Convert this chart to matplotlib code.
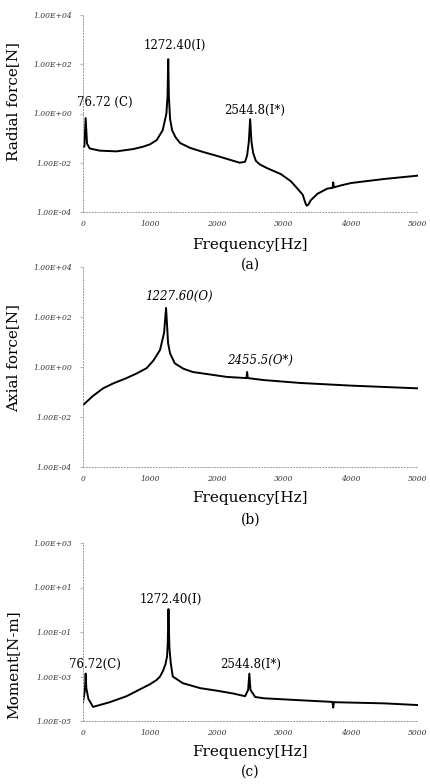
import matplotlib
matplotlib.use("Agg")
import matplotlib.pyplot as plt

# ── (a) radial force ──────────────────────────────────────────────
radial_freq = [0, 20, 40, 60, 100, 250, 500, 750, 900, 1000, 1100, 1190, 1245, 1262,
               1272.4, 1282, 1300, 1330, 1380, 1450, 1600, 1800, 2000, 2200, 2340,
               2420, 2450, 2475, 2495, 2515, 2540, 2580, 2640, 2750, 2950, 3100, 3200,
               3280, 3320, 3340, 3365, 3400, 3500, 3650, 3725, 3735, 3745, 3850, 4000,
               4500, 5000]
radial_val = [0.05, 0.045, 0.65, 0.06, 0.038, 0.031, 0.029, 0.036, 0.045, 0.056, 0.083,
              0.21, 1.0, 5, 160, 5, 0.6, 0.21, 0.11, 0.063, 0.04, 0.027, 0.019, 0.013,
              0.01, 0.011, 0.02, 0.07, 0.59, 0.07, 0.025, 0.012, 0.0085, 0.006, 0.0035,
              0.0018, 0.0009, 0.0005, 0.00023, 0.00018, 0.0002, 0.0003, 0.00055,
              0.0009, 0.00095, 0.0016, 0.001, 0.0012, 0.0015, 0.0022, 0.003]

# ── (b) axial force ───────────────────────────────────────────────
axial_freq = [0, 150, 300, 450, 650, 800, 950, 1050, 1150, 1210, 1240, 1270, 1300,
              1370, 1500, 1640, 1900, 2150, 2440, 2450, 2460, 2700, 3240, 4000, 5000]
axial_val = [0.03, 0.07, 0.14, 0.22, 0.36, 0.55, 0.9, 1.8, 4.8, 23, 230, 9, 3.5, 1.4,
             0.85, 0.63, 0.5, 0.4, 0.36, 0.63, 0.36, 0.3, 0.23, 0.18, 0.14]

# ── (c) moment ────────────────────────────────────────────────────
moment_freq = [0, 15, 30, 40, 50, 80, 150, 400, 650, 1000, 1100, 1150, 1195, 1230,
               1255, 1265, 1276, 1290, 1310, 1340, 1490, 1750, 2000, 2250, 2420, 2465,
               2483, 2500, 2570, 2700, 3200, 3725, 3735, 3745, 4500, 5000]
moment_val = [7e-5, 1.3e-4, 3e-4, 1.35e-3, 3e-4, 1.0e-4, 4.3e-5, 7e-5, 1.3e-4, 4.5e-4,
              7e-4, 1.0e-3, 1.8e-3, 3.5e-3, 8e-3, 0.03, 1.07, 0.02, 4e-3, 1e-3, 5e-4,
              3e-4, 2.3e-4, 1.7e-4, 1.3e-4, 2.5e-4, 1.35e-3, 2.5e-4, 1.2e-4, 1.05e-4,
              8.7e-5, 7.2e-5, 4e-5, 7e-5, 6.2e-5, 5.2e-5]

x_ticks = [0, 1000, 2000, 3000, 4000, 5000]

panels = [
    dict(freq=radial_freq, val=radial_val, ylabel="Radial force[N]", tag="(a)",
         yticks=[1e-4, 1e-2, 1e0, 1e2, 1e4],
         ylabels=["1.00E-04", "1.00E-02", "1.00E+00", "1.00E+02", "1.00E+04"],
         rect=[0.193, 1 - 212 / 784, 0.779, 197 / 784], ylab_y=0.56, note_style="normal",
         notes=[("1272.40(I)", 1272.4, 160, 5, 10),
                ("76.72 (C)", 40, 0.65, 14, 11.5),
                ("2544.8(I*)", 2495, 0.59, 3.5, 6.5)],
         xlab_px=245, tag_px=265),
    dict(freq=axial_freq, val=axial_val, ylabel="Axial force[N]", tag="(b)",
         yticks=[1e-4, 1e-2, 1e0, 1e2, 1e4],
         ylabels=["1.00E-04", "1.00E-02", "1.00E+00", "1.00E+02", "1.00E+04"],
         rect=[0.193, 1 - 467 / 784, 0.779, 200 / 784], ylab_y=0.545, note_style="italic",
         notes=[("1227.60(O)", 1240, 230, 9, 8.6),
                ("2455.5(O*)", 2450, 0.63, 9.5, 8)],
         xlab_px=498, tag_px=520),
    dict(freq=moment_freq, val=moment_val, ylabel="Moment[N-m]", tag="(c)",
         yticks=[1e-5, 1e-3, 1e-1, 1e1, 1e3],
         ylabels=["1.00E-05", "1.00E-03", "1.00E-01", "1.00E+01", "1.00E+03"],
         rect=[0.193, 1 - 721 / 784, 0.779, 178 / 784], ylab_y=0.315, note_style="normal",
         notes=[("1272.40(I)", 1276, 1.07, 2, 7),
                ("76.72(C)", 40, 1.35e-3, 7, 6.5),
                ("2544.8(I*)", 2483, 1.35e-3, 1, 6.5)],
         xlab_px=752, tag_px=772),
]

fig = plt.figure(figsize=(4.3, 7.84), dpi=100)
serif = "DejaVu Serif"

for p in panels:
    ax = fig.add_axes(p["rect"])
    ax.semilogy(p["freq"], p["val"], color="black", linewidth=1.4)
    ax.set_xlim(0, 5000)
    ax.set_ylim(p["yticks"][0], p["yticks"][-1])
    ax.set_yticks(p["yticks"])
    ax.set_yticklabels(p["ylabels"])
    ax.minorticks_off()
    ax.set_xticks(x_ticks)
    ax.set_xticklabels([str(t) for t in x_ticks])
    for lab in ax.get_xticklabels() + ax.get_yticklabels():
        lab.set_fontfamily(serif)
        lab.set_fontsize(5.5)
        lab.set_fontstyle("italic")
        lab.set_color("#333333")
    ax.tick_params(axis="y", length=2, color="#bbbbbb", pad=6)
    ax.tick_params(axis="x", length=0, pad=6)

    for side in ["top", "right"]:
        ax.spines[side].set_visible(False)
    for side in ["left", "bottom"]:
        ax.spines[side].set_linestyle((0, (1, 2)))
        ax.spines[side].set_color("#999999")
        ax.spines[side].set_linewidth(0.7)

    ax.set_ylabel(p["ylabel"], fontsize=11, family=serif)
    ax.yaxis.set_label_coords(-0.188, p["ylab_y"])

    # peak labels, offsets in points from the peak tip
    for txt, x, y, dx, dy in p["notes"]:
        ax.annotate(txt, (x, y), textcoords="offset points", xytext=(dx, dy),
                    ha="center", va="center", fontsize=8.5, family=serif,
                    style=p["note_style"])

    fig.text(0.582, 1 - p["xlab_px"] / 784, "Frequency[Hz]", ha="center",
             va="center", fontsize=11, family=serif)
    fig.text(0.582, 1 - p["tag_px"] / 784, p["tag"], ha="center",
             va="center", fontsize=10, family=serif)

plt.savefig("out.png", dpi=100)
plt.close()
